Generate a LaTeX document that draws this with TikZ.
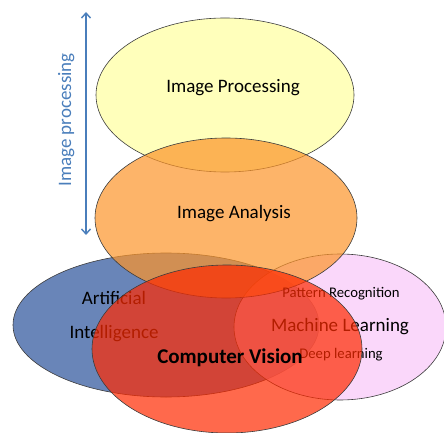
\documentclass[tikz,border=0pt]{standalone}
\usepackage{fontspec}
\setmainfont{Carlito}
\usetikzlibrary{arrows.meta}
\definecolor{cyel}{RGB}{255,255,158}
\definecolor{corg}{RGB}{252,148,41}
\definecolor{cblu}{RGB}{42,81,154}
\definecolor{cpnk}{RGB}{248,198,248}
\definecolor{cred}{RGB}{255,42,0}
\definecolor{carr}{RGB}{74,126,187}
\definecolor{cedge}{RGB}{60,60,60}
\tikzset{
  blob/.style={draw=cedge, line width=0.6bp, fill opacity=0.7},
  lbl/.style={anchor=base, inner sep=0pt, text=black, font=\fontsize{19bp}{22bp}\selectfont},
  small/.style={anchor=base, inner sep=0pt, text=black, font=\fontsize{14.7bp}{17bp}\selectfont},
}
\begin{document}
\begin{tikzpicture}[x=1bp,y=-1bp]
\useasboundingbox (0,0) rectangle (444,433);
% ellipses
\path[blob, fill=cyel] (225,95) ellipse [x radius=129, y radius=77];
\path[blob, fill=cblu] (166,325) ellipse [x radius=153, y radius=72];
\path[blob, fill=cpnk] (340,327) ellipse [x radius=106, y radius=73];
\path[blob, fill=corg] (226,218) ellipse [x radius=131, y radius=80];
% texts under red
\node[lbl] (ip) at (233,93) {Image Processing};
\node[lbl] (ia) at (234,219) {Image Analysis};
\node[lbl] (ai1) at (114,304) {Artificial};
\node[lbl] (ai2) at (114,338) {Intelligence};
\node[small] (pr) at (341,297) {Pattern Recognition};
\node[lbl] (ml) at (340,331) {Machine Learning};
\node[small] (dl) at (341,358) {Deep learning};
% red
\path[blob, fill=cred] (227,349) ellipse [x radius=135, y radius=84];
\node[anchor=base, inner sep=0pt, font=\fontsize{21bp}{24bp}\selectfont\bfseries] (cv) at (230,363) {Computer Vision};
% arrow
\coordinate (atop) at (86,12);
\coordinate (abot) at (86,235);
\draw[carr, line width=1.4bp, {Straight Barb[length=5bp,width=9bp]}-{Straight Barb[length=5bp,width=9bp]}] (atop) -- (abot);
\node[anchor=base, rotate=90, inner sep=0pt, text=carr, font=\fontsize{19bp}{22bp}\selectfont] (ipl) at (71,120) {Image processing};
\end{tikzpicture}
\end{document}
